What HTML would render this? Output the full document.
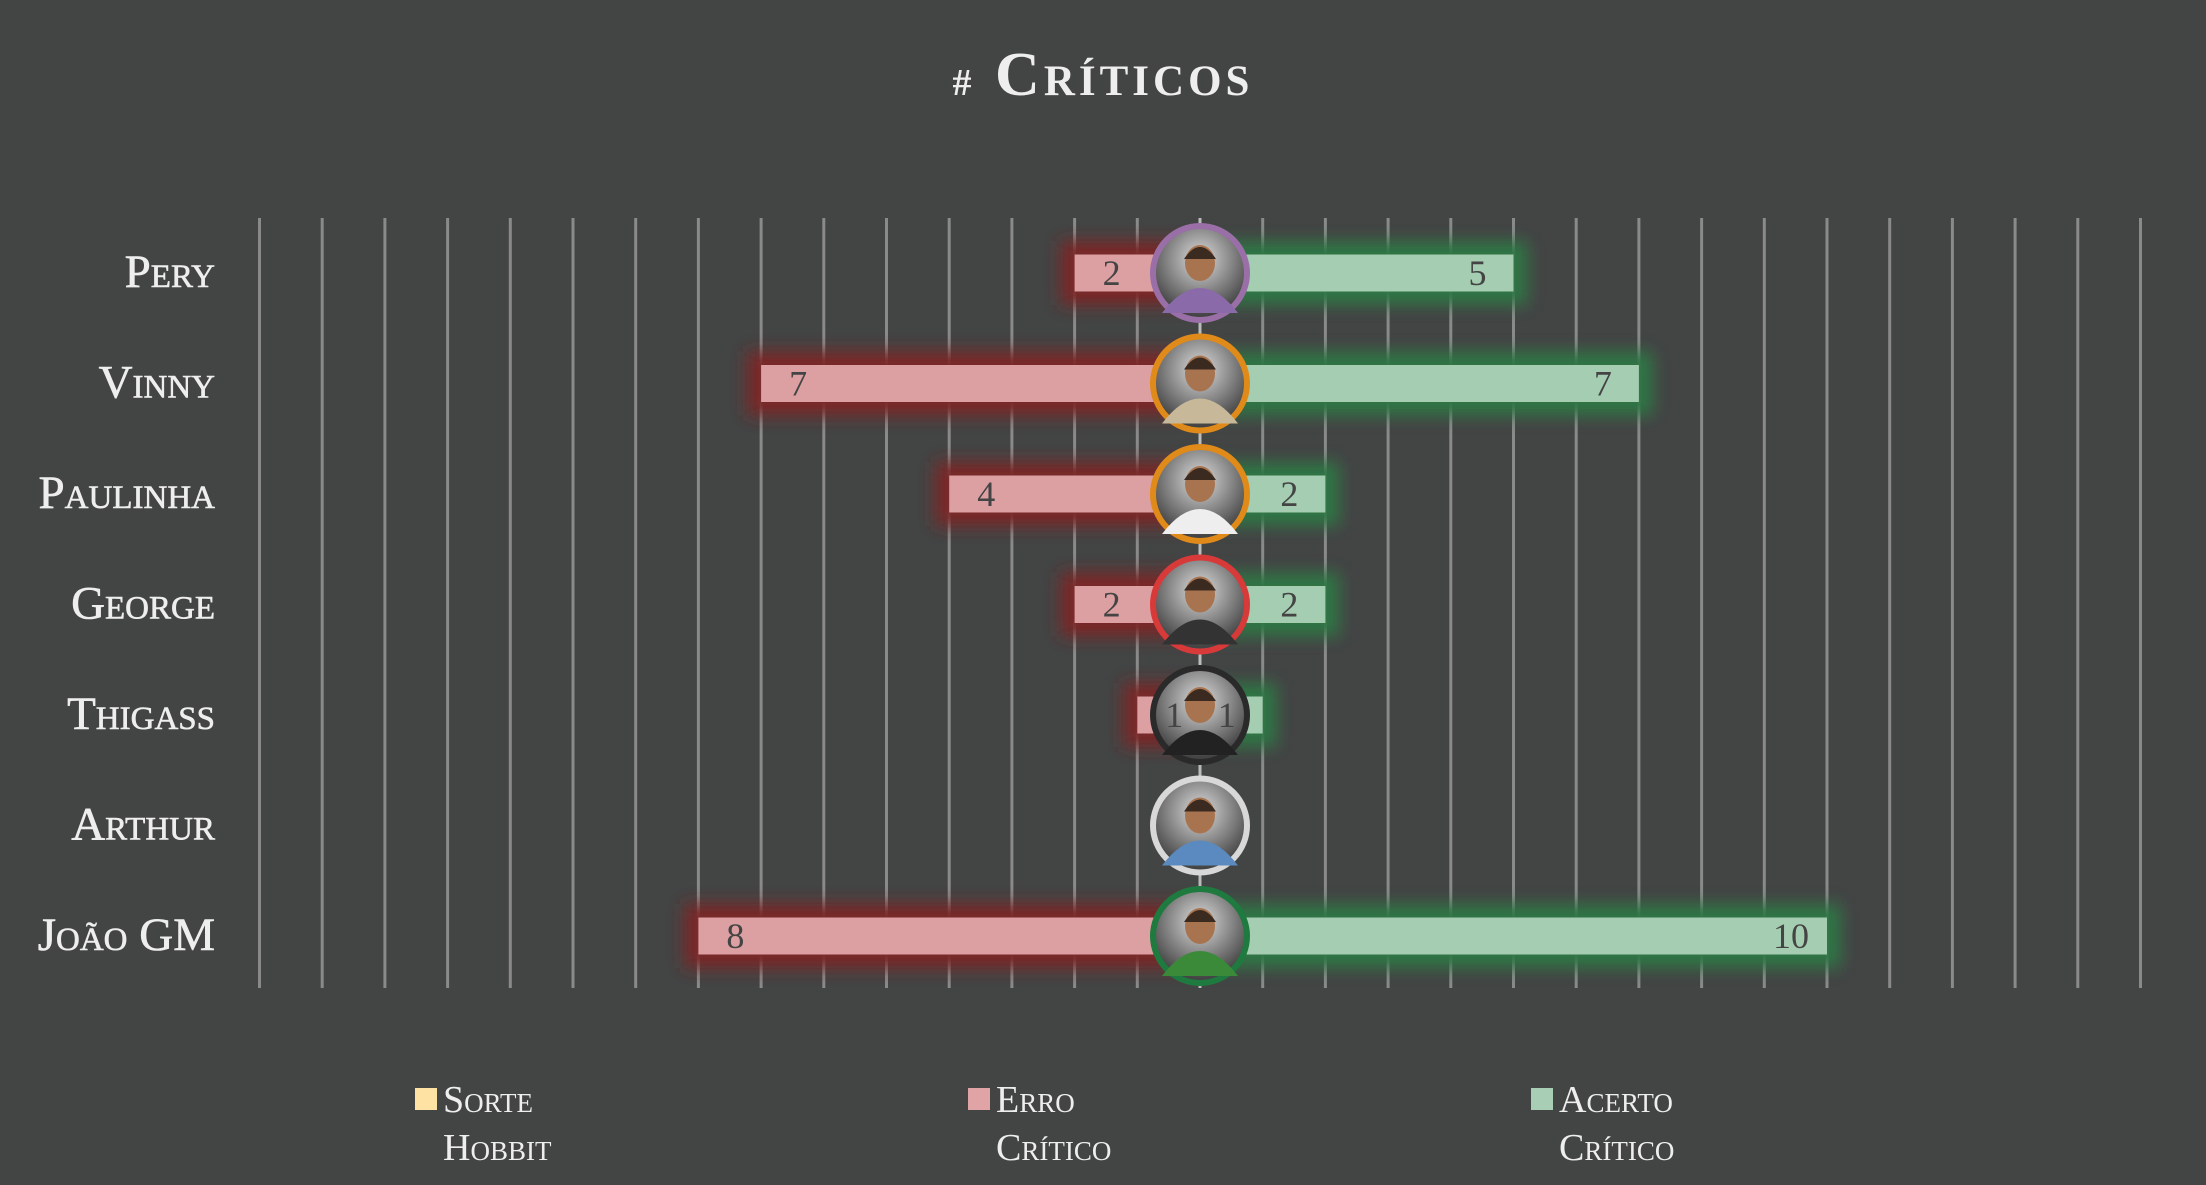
<!DOCTYPE html><html><head><style>body{margin:0;background:#434444}</style></head><body>
<svg width="2206" height="1185" xmlns="http://www.w3.org/2000/svg" style="display:block;font-family:'Liberation Serif',serif;font-variant:small-caps">
<defs>
<filter id="b" x="-20%" y="-100%" width="140%" height="300%"><feGaussianBlur stdDeviation="8"/></filter>
<radialGradient id="g" cx="50%" cy="35%" r="60%"><stop offset="0" stop-color="#ddd"/><stop offset="1" stop-color="#444"/></radialGradient>
</defs>
<rect width="2206" height="1185" fill="#434444"/>
<text x="1103" y="95" text-anchor="middle" fill="#eee" font-size="62" font-weight="bold" letter-spacing="4"><tspan font-size="38">#</tspan> Críticos</text>
<g id="grid"></g>
<g id="bars"></g>
<g id="lab"></g>
<g id="legend" fill="#eee" font-size="38">
<rect x="415" y="1088" width="22" height="22" fill="#fde2a3"/><text x="443" y="1112">Sorte</text><text x="443" y="1160">Hobbit</text>
<rect x="968" y="1088" width="22" height="22" fill="#e0a4a6"/><text x="996" y="1112">Erro</text><text x="996" y="1160">Crítico</text>
<rect x="1531" y="1088" width="22" height="22" fill="#a8cfb5"/><text x="1559" y="1112">Acerto</text><text x="1559" y="1160">Crítico</text>
</g>
<script>
var ns="http://www.w3.org/2000/svg",U=62.7,C=1200;
function el(t,a,p,txt){var e=document.createElementNS(ns,t);for(var k in a)e.setAttribute(k,a[k]);if(txt!=null)e.textContent=txt;p.appendChild(e);return e;}
var G=document.getElementById('grid'),B=document.getElementById('bars'),L=document.getElementById('lab');
for(var i=-15;i<=15;i++){var x=C+i*U;el('line',{x1:x,x2:x,y1:218,y2:988,stroke:i==0?'#bbb':'#8a8a8a','stroke-width':3},G);}
var d=[["Pery",2,5,"#9a6fa8","#8a6aa8"],["Vinny",7,7,"#e08a1a","#c8b89a"],["Paulinha",4,2,"#e08a1a","#eee"],["George",2,2,"#d83a3a","#333"],["Thigass",1,1,"#2a2a2a","#222"],["Arthur",0,0,"#d8d8d8","#5a8ac0"],["João GM",8,10,"#1e7a3e","#3a8a3a"]];
d.forEach(function(r,i){var y=273+i*110.5;
el('text',{x:215,y:y+14,'text-anchor':'end',fill:'#eee','font-size':47,'stroke':'#eee','stroke-width':0.6},G,r[0]);
if(r[1]){el('rect',{x:C-r[1]*U-14,y:y-32,width:r[1]*U+14,height:64,fill:'#7a2626',filter:'url(#b)'},B);
el('rect',{x:C-r[1]*U,y:y-18.5,width:r[1]*U,height:37,fill:'#e0a4a6','fill-opacity':.97},B);
el('text',{x:C-r[1]*U+37,y:y+12,'text-anchor':'middle',fill:'#444','font-size':36},L,r[1]);}
if(r[2]){el('rect',{x:C,y:y-32,width:r[2]*U+14,height:64,fill:'#2f7645',filter:'url(#b)'},B);
el('rect',{x:C,y:y-18.5,width:r[2]*U,height:37,fill:'#a8cfb5','fill-opacity':.97},B);
el('text',{x:C+r[2]*U-36,y:y+12,'text-anchor':'middle',fill:'#444','font-size':36},L,r[2]);}
el('circle',{cx:C,cy:y,r:47,fill:'url(#g)',stroke:r[3],'stroke-width':6},B);
el('path',{d:'M'+(C-38)+' '+(y+40)+' Q'+C+' '+(y-10)+' '+(C+38)+' '+(y+40)+' Z',fill:r[4]},B);
el('ellipse',{cx:C,cy:y-10,rx:15,ry:18,fill:'#a8744f'},B);
el('path',{d:'M'+(C-16)+' '+(y-14)+' Q'+C+' '+(y-38)+' '+(C+16)+' '+(y-14)+' Z',fill:'#3a2a20'},B);
});
</script>
</svg></body></html>
